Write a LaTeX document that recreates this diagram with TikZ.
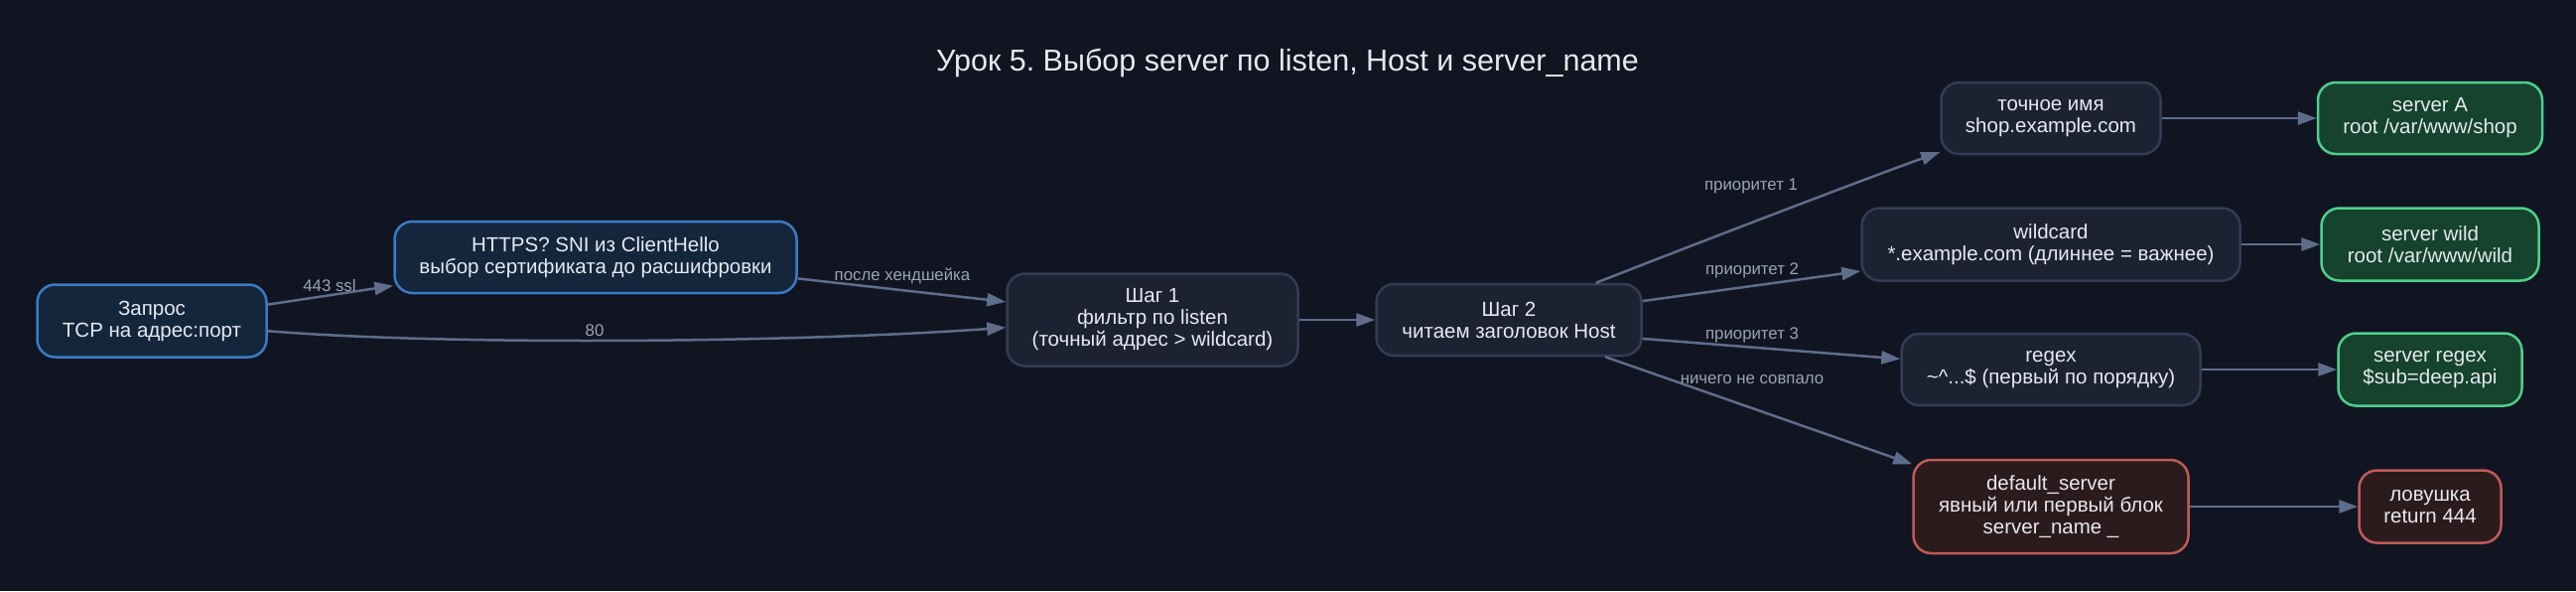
\documentclass[tikz,border=0pt]{standalone}
\usepackage{fontspec}
\setmainfont{Liberation Sans}
\usetikzlibrary{arrows.meta}
\definecolor{bg}{HTML}{111521}
\definecolor{txt}{HTML}{E6E9F0}
\definecolor{lbl}{HTML}{9AA3B6}
\definecolor{edgec}{HTML}{5E6D8C}
\definecolor{nfill}{HTML}{1D2233}
\definecolor{ndraw}{HTML}{323C55}
\definecolor{bfill}{HTML}{14263C}
\definecolor{bdraw}{HTML}{3B7BC4}
\definecolor{gfill}{HTML}{15432D}
\definecolor{gdraw}{HTML}{4DCF8B}
\definecolor{rfill}{HTML}{2B1B1C}
\definecolor{rdraw}{HTML}{C05A58}
\tikzset{
  box/.style={rectangle, rounded corners=18pt, line width=2.5pt, align=center, text=txt,
    font=\fontsize{20.5}{22}\selectfont, inner sep=0pt},
  neutral/.style={box, fill=nfill, draw=ndraw},
  bluebox/.style={box, fill=bfill, draw=bdraw},
  greenbox/.style={box, fill=gfill, draw=gdraw},
  redbox/.style={box, fill=rfill, draw=rdraw},
  edge/.style={draw=edgec, line width=2.5pt, -{Triangle[length=19pt,width=13pt]}},
  elabel/.style={text=lbl, font=\fontsize{16.8}{18}\selectfont, inner sep=0pt},
}
\frenchspacing
\begin{document}
\begin{tikzpicture}[x=1pt,y=-1pt]
\fill[bg] (0,0) rectangle (2595,595);
\useasboundingbox (0,0) rectangle (2595,595);

\node[text=txt, font=\fontsize{30.5}{34}\selectfont] (title) at (1297,63) {Урок 5. Выбор server по listen, Host и server\_name};

\node[bluebox, minimum width=231pt, minimum height=73pt] (req) at (153,323) {Запрос\\TCP на адрес:порт};
\node[bluebox, minimum width=405pt, minimum height=72pt] (https) at (600,259) {HTTPS? SNI из ClientHello\\выбор сертификата до расшифровки};
\node[neutral, minimum width=293pt, minimum height=93pt] (s1) at (1161,322) {Шаг 1\\фильтр по listen\\(точный адрес > wildcard)};
\node[neutral, minimum width=267pt, minimum height=72pt] (s2) at (1520,322) {Шаг 2\\читаем заголовок Host};
\node[neutral, minimum width=221pt, minimum height=72pt] (exact) at (2066,119) {точное имя\\shop.example.com};
\node[neutral, minimum width=381pt, minimum height=73pt] (wild) at (2066,246) {wildcard\\*.example.com (длиннее = важнее)};
\node[neutral, minimum width=301pt, minimum height=72pt] (regex) at (2066,372) {regex\\\textasciitilde\textasciicircum...\$ (первый по порядку)};
\node[redbox, minimum width=277pt, minimum height=94pt] (def) at (2066,510) {default\_server\\явный или первый блок\\server\_name \_};
\node[greenbox, minimum width=226pt, minimum height=72pt] (srvA) at (2448,119) {server A\\root /var/www/shop};
\node[greenbox, minimum width=219pt, minimum height=73pt] (srvW) at (2448,246) {server wild\\root /var/www/wild};
\node[greenbox, minimum width=185pt, minimum height=73pt] (srvR) at (2448,372) {server regex\\\$sub=deep.api};
\node[redbox, minimum width=143pt, minimum height=73pt] (trap) at (2448,510) {ловушка\\return 444};

\draw[edge] (req.8.4) -- (https.188.1);
\node[elabel] (l443) at (332,287) {443 ssl};
\draw[edge] (req.-5.4) .. controls (450,348) and (800,345) .. (s1.183.9);
\node[elabel] (l80) at (599,333) {80};
\draw[edge] (https.-6.5) -- (s1.173.8);
\node[elabel] (lhs) at (909,278) {после хендшейка};
\draw[edge] (s1.east) -- (s2.west);

\draw[edge] (s2.23) .. controls (1717,242) and (1887,177) .. (exact.197);
\node[elabel] (lp1) at (1764,187) {приоритет 1};
\draw[edge] (s2.8.5) -- (wild.188);
\node[elabel] (lp2) at (1765,272) {приоритет 2};
\draw[edge] (s2.-8) -- (regex.176.6);
\node[elabel] (lp3) at (1765,337) {приоритет 3};
\draw[edge] (s2.-21.7) -- (def.163);
\node[elabel] (lnone) at (1765,382) {ничего не совпало};

\draw[edge] (exact.east) -- (srvA.west);
\draw[edge] (wild.east) -- (srvW.west);
\draw[edge] (regex.east) -- (srvR.west);
\draw[edge] (def.east) -- (trap.west);
\end{tikzpicture}
\end{document}
